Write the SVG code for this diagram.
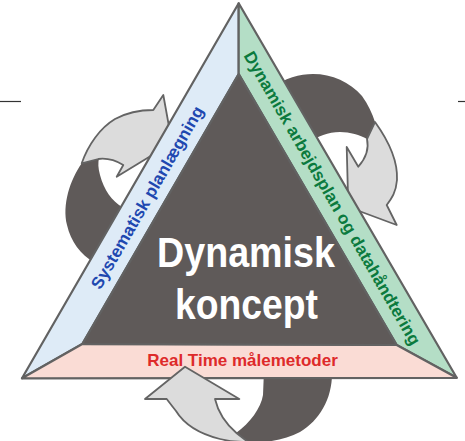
<svg xmlns="http://www.w3.org/2000/svg" width="465" height="441" viewBox="0 0 465 441">
<style>
.dark{fill:#5f5a59;stroke:none}
.light{fill:#dcdcdc;stroke:#646464;stroke-width:1.8;stroke-linejoin:round}
.band{stroke:#626262;stroke-width:2.2;stroke-linejoin:round}
.tick{stroke:#333;stroke-width:1.2}
.lbl{font-family:"Liberation Sans",Arial,sans-serif;font-weight:bold}
.big{font-family:"Liberation Sans",Arial,sans-serif;font-weight:bold;fill:#fff;font-size:43px;text-anchor:middle}
</style>
<rect width="465" height="441" fill="#fff"/>
<g id="ticks">
<path class="tick" d="M0,101.5 H21"/>
<path class="tick" d="M458,101.5 H465"/>
</g>
<g id="connectors">
<g id="arrow-left">
<path class="dark" d="M81.7,163.3 C70,180 62,205 67,225 C71,242 80,254 95,263 L130,240 L122,207 C112,201 104,190 100,175 C98,168 98,163 99,158 Z"/>
<path class="light" d="M81.7,163.3 C88,145 100,128 115,119 C128,112 142,110 153.3,110 L163.3,95 L172,143 L116.7,176.7 L123.3,165 C115,160 106,158 98.3,159 Z"/>
</g>
<g id="arrow-right">
<path class="dark" d="M270,90 C285,77 300,74 313,74 C332,74 350,82 362,96 C368,104 372,113 375,122 L367,139 C360,135 350,132 340,132 C328,132 318,136 308,143 Z"/>
<path class="light" d="M375,122 C388,140 398,160 397,180 C396,192 392,198 386.7,205 L396.7,225 L348.3,207 L346.7,147 L358.3,166.7 C366,158 369,148 367,139 Z"/>
</g>
<g id="arrow-bottom-back">
<path class="dark" d="M264,370 L332,370 C333,398 320,420 300,432 C285,440 265,443 246,443 L236,433 C250,423 261,408 263,395 Z"/>
</g>
</g>
<g id="node-systematisk">
<path class="band" fill="#deebf7" d="M238.7,3.3 L22,378.3 L82.3,344 L238.7,74 Z"/>
</g>
<g id="node-arbejdsplan">
<path class="band" fill="#b4dec6" d="M238.7,3.3 L238.7,74 L396.7,345 L456.7,377.8 Z"/>
</g>
<g id="node-realtime">
<path class="band" fill="#fadcd5" d="M22,378.3 L456.7,377.8 L396.7,345 L82.3,344 Z"/>
</g>
<g id="node-koncept">
<path class="band" fill="#5f5a59" d="M238.7,74 L82.3,344 L396.7,345 Z"/>
<text class="big" x="246" y="267" textLength="178" lengthAdjust="spacingAndGlyphs">Dynamisk</text>
<text class="big" x="246.5" y="319" textLength="143" lengthAdjust="spacingAndGlyphs">koncept</text>
</g>
<g id="arrow-bottom-front">
<path class="light" d="M185,366.7 L239.3,399 L215,399 C218,412 226,424 236.7,433.3 L248,442 C238,442 228,441 220,439 C200,434 184,424 176,411 C172,406 169,402 166.7,399 L145,399 Z"/>
</g>
<g id="labels">
<text class="lbl" fill="#1f48b0" font-size="17" text-anchor="middle" textLength="208" lengthAdjust="spacingAndGlyphs" transform="translate(147,197.5) rotate(-60)" x="0" y="6">Systematisk planlægning</text>
<text class="lbl" fill="#0b7a3e" font-size="17" text-anchor="middle" textLength="336" lengthAdjust="spacingAndGlyphs" transform="translate(332.5,198) rotate(60)" x="0" y="6">Dynamisk arbejdsplan og datahåndtering</text>
<text class="lbl" fill="#de2a2a" font-size="17" text-anchor="middle" x="242.5" y="366">Real Time målemetoder</text>
</g>
</svg>
